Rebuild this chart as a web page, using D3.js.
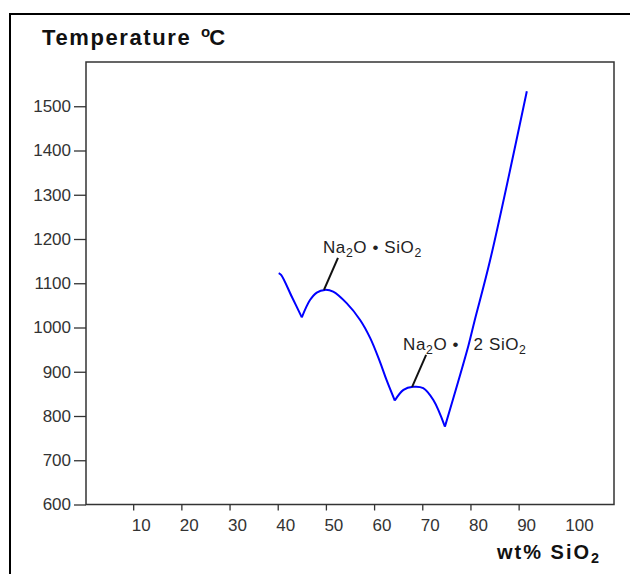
<!DOCTYPE html>
<html>
<head>
<meta charset="utf-8">
<script src="https://cdn.jsdelivr.net/npm/d3@7"></script>
<style>
body { margin: 0; background: #fff; }
text { font-family: Arial, "Liberation Sans", sans-serif; }
</style>
</head>
<body>
<div id="chart"></div>
<script>
// liquidus of the Na2O - SiO2 system
var wtSiO2 = [40.2, 40.7, 42.9, 45.0, 46.7, 48.1, 49.8, 51.5, 54.3, 57.1, 59.2, 61.2, 62.6, 64.3,
              66.1, 68.1, 70.2, 72.3, 74.7, 79.6, 80.9, 84.1, 91.7];
var tempC = [1123, 1119, 1070, 1023, 1062, 1079, 1085, 1081, 1055, 1017, 976, 923, 881, 835,
             859, 866, 863, 836, 776, 960, 1017, 1153, 1534];
// eutectics = where the liquidus breaks (index into the arrays above)
var eutectics = [3, 13, 18];

// congruently melting compounds
var compounds = ["Na2O \u2022 SiO2", "Na2O \u2022\u2002 2 SiO2"];
var compoundWt = [49.8, 68.1];
var compoundTemp = [1085, 866];

var yTicks = [600, 700, 800, 900, 1000, 1100, 1200, 1300, 1400, 1500];
var xTicks = [10, 20, 30, 40, 50, 60, 70, 80, 90];
var xLabels = [10, 20, 30, 40, 50, 60, 70, 80, 90, 100];

var width = 630, height = 574;

var svg = d3.select("#chart")
    .append("svg")
    .attr("width", width)
    .attr("height", height);

svg.append("rect")
    .attr("width", width)
    .attr("height", height)
    .attr("fill", "#fff");

// outer frame (only left and top are inside the picture)
svg.append("path")
    .attr("d", "M10," + height + "V14H" + width)
    .attr("fill", "none")
    .attr("stroke", "#000")
    .attr("stroke-width", 2);

var x = d3.scaleLinear().domain([0, 110]).range([85, 615]);
var y = d3.scaleLinear().domain([600, 1600]).range([504.5, 62]);

// plot box
svg.append("rect")
    .attr("x", x(0) + 1)
    .attr("y", y(1600))
    .attr("width", x(110) - x(0) - 2)
    .attr("height", y(600) - y(1600))
    .attr("fill", "none")
    .attr("stroke", "#333")
    .attr("stroke-width", 1.5);

var yAxis = svg.append("g")
    .attr("transform", "translate(" + (x(0) + 1) + ",0)")
    .call(d3.axisLeft(y).tickValues(yTicks).tickFormat(d3.format("d"))
        .tickSize(12).tickPadding(3));

var xAxis = svg.append("g")
    .attr("transform", "translate(0," + y(600) + ")")
    .call(d3.axisBottom(x).tickValues(xLabels).tickFormat(d3.format("d"))
        .tickSize(6).tickPadding(8));

svg.selectAll(".domain").remove();
svg.selectAll(".tick line").attr("stroke", "#333").attr("stroke-width", 1.3);
svg.selectAll(".tick text")
    .attr("fill", "#333")
    .style("font-size", "17px")
    .style("font-family", "Arial, 'Liberation Sans', sans-serif");

// ticks only up to 90, labels go to 100
xAxis.selectAll(".tick line")
    .filter(function(d) { return xTicks.indexOf(d) < 0; })
    .remove();
xAxis.selectAll(".tick text")
    .attr("text-anchor", "start")
    .attr("x", -2);

// writes chemical formulas with subscript digits
function formula(sel, str) {
    var parts = str.split(/(?<=[A-Za-z])(\d)/);
    parts.forEach(function(p, i) {
        if (p === "") return;
        var t = sel.append("tspan").text(p);
        if (i % 2 == 1) {
            t.attr("font-size", "0.72em").attr("dy", 4);
        } else if (i > 0) {
            t.attr("dy", -4);
        }
    });
}

// axis titles
var ytitle = svg.append("text")
    .attr("x", 42)
    .attr("y", 45)
    .style("font-size", "22px")
    .style("font-weight", "bold")
    .style("letter-spacing", "1.6px")
    .attr("fill", "#111");
ytitle.append("tspan").text("Temperature ");
ytitle.append("tspan").text("o").attr("dy", -8).attr("dx", 2)
    .style("font-size", "15px").style("letter-spacing", "0");
ytitle.append("tspan").text("C").attr("dy", 8).attr("dx", -1);

var xtitle = svg.append("text")
    .attr("x", 497)
    .attr("y", 559)
    .style("font-size", "20px")
    .style("font-weight", "bold")
    .style("letter-spacing", "2px")
    .attr("fill", "#111");
formula(xtitle, "wt% SiO2");

// liquidus, one piece between each pair of eutectics
var points = wtSiO2.map(function(d, i) { return [d, tempC[i]]; });
var cuts = [0].concat(eutectics, [points.length - 1]);
var branches = [];
for (var i = 0; i < cuts.length - 1; i++) {
    branches.push(points.slice(cuts[i], cuts[i + 1] + 1));
}

var line = d3.line()
    .x(function(d) { return x(d[0]); })
    .y(function(d) { return y(d[1]); })
    .curve(d3.curveCatmullRom.alpha(0.5));

svg.append("g")
    .selectAll("path")
    .data(branches)
    .enter().append("path")
    .attr("d", line)
    .attr("fill", "none")
    .attr("stroke", "#0000ff")
    .attr("stroke-width", 2)
    .attr("stroke-linejoin", "round");

// compound labels with leader lines
compounds.forEach(function(name, i) {
    var cx = x(compoundWt[i]), cy = y(compoundTemp[i]);
    svg.append("line")
        .attr("x1", cx - 1)
        .attr("y1", cy)
        .attr("x2", cx + 13)
        .attr("y2", cy - 32)
        .attr("stroke", "#111")
        .attr("stroke-width", 2);
    var t = svg.append("text")
        .attr("x", cx - (i == 0 ? 2 : 10))
        .attr("y", cy - 37)
        .style("font-size", "17px")
        .style("letter-spacing", "0.6px")
        .style("white-space", "pre")
        .attr("fill", "#222");
    formula(t, name);
});
</script>
</body>
</html>
